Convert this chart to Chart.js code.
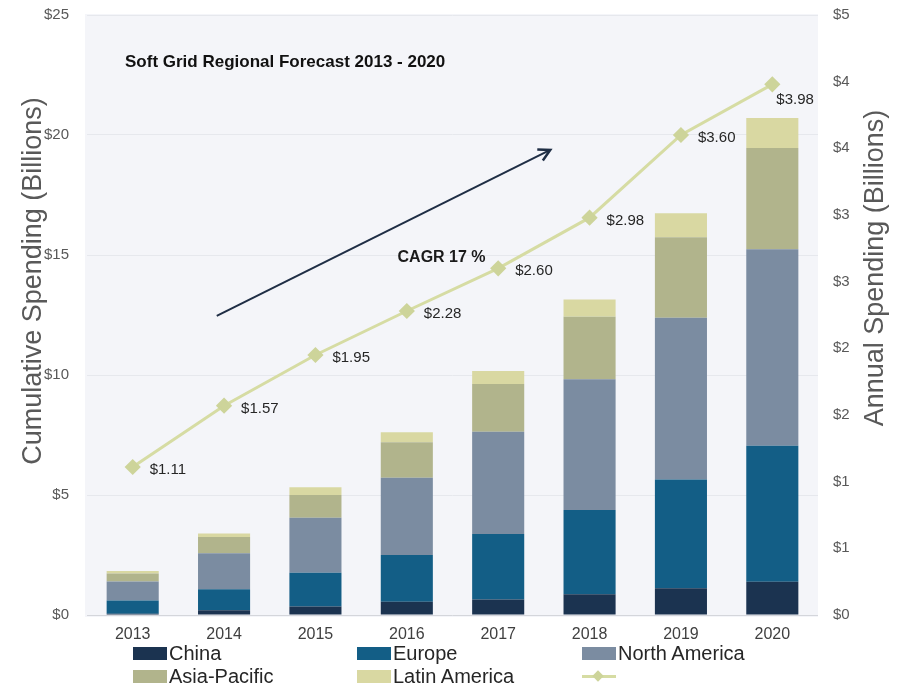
<!DOCTYPE html>
<html>
<head>
<meta charset="utf-8">
<title>Soft Grid Regional Forecast 2013 - 2020</title>
<script src="https://cdn.jsdelivr.net/npm/chart.js@4.4.1/dist/chart.umd.min.js"></script>
<style>
  html, body { margin: 0; padding: 0; background: #ffffff; }
  #wrap { position: relative; width: 899px; height: 686px; overflow: hidden; }
  #legend {
    position: absolute; left: 133px; top: 642px;
    display: grid; grid-template-columns: 224px 225px 200px; grid-auto-rows: 23px;
    color: #262626; white-space: nowrap;
  }
  .item { display: flex; align-items: center; height: 23px; }
  .box { width: 34px; height: 13px; margin-right: 2px; flex: none; }
  .lineKey { position: relative; width: 34px; height: 13px; }
  .lineKey .bar { position: absolute; left: 0; right: 0; top: 5px; height: 3px; }
  .lineKey .dia { position: absolute; left: 12px; top: 2px; width: 8px; height: 8px; transform: rotate(45deg); }
</style>
</head>
<body>
<div id="wrap">
  <canvas id="chart"></canvas>
  <div id="legend"></div>
</div>
<script>
// ---- data ----
const years = ["2013", "2014", "2015", "2016", "2017", "2018", "2019", "2020"];
const china        = [0.05, 0.20, 0.35, 0.55, 0.65, 0.86, 1.11, 1.39];
const europe       = [0.55, 0.87, 1.41, 1.95, 2.72, 3.51, 4.54, 5.66];
const northAmerica = [0.80, 1.50, 2.29, 3.22, 4.27, 5.45, 6.74, 8.19];
const asiaPacific  = [0.33, 0.68, 0.95, 1.48, 1.98, 2.61, 3.35, 4.22];
const latinAmerica = [0.10, 0.15, 0.32, 0.41, 0.55, 0.72, 1.00, 1.25];
const annual       = [1.11, 1.57, 1.95, 2.28, 2.60, 2.98, 3.60, 3.98];

const regionNames = ["China", "Europe", "North America", "Asia-Pacific", "Latin America"];
const regionColors = ["#1b3350", "#135e86", "#7b8ca1", "#b1b48c", "#d9d8a2"];
const LINE_COLOR = "#d6dca3";
const MARKER_COLOR = "#cdd49a";

// annotation arrow in data units (category index, left axis value)
const arrowFrom = { x: 0.92, y: 12.46 };
const arrowTo   = { x: 4.57, y: 19.38 };
const cagrAt    = { x: 3.38, y: 14.9 };

// ---- fonts: use a narrow face when the machine has one ----
function hasFont(name) {
  const c = document.createElement("canvas").getContext("2d");
  c.font = "30px monospace";
  const a = c.measureText("China 2013 $1.11").width;
  c.font = "30px '" + name + "', monospace";
  return c.measureText("China 2013 $1.11").width !== a;
}
const NARROW = hasFont("Liberation Sans Narrow");
const SMALL_FONT = NARROW ? "'Liberation Sans Narrow', 'Liberation Sans', Arial, sans-serif"
                          : "'Liberation Sans', Arial, sans-serif";
const K = NARROW ? 1 : 0.82;     // shrink sizes when falling back to a regular width face
const BODY_FONT = "'Liberation Sans', Arial, sans-serif";
const AXIS_GREY = "#595959";

// ---- plugins ----
const plotBackground = {
  id: "plotBackground",
  beforeDraw(chart) {
    const { ctx, chartArea: a } = chart;
    ctx.save();
    ctx.fillStyle = "#f4f5f9";
    ctx.fillRect(a.left - 2, a.top - 1, a.right - a.left + 2, a.bottom - a.top + 3);
    ctx.restore();
  }
};

const lineValueLabels = {
  id: "lineValueLabels",
  afterDatasetsDraw(chart) {
    const idx = chart.data.datasets.findIndex(d => d.type === "line");
    const meta = chart.getDatasetMeta(idx);
    const ctx = chart.ctx;
    ctx.save();
    ctx.font = Math.round(18 * K) + "px " + SMALL_FONT;
    ctx.fillStyle = "#262626";
    ctx.textBaseline = "middle";
    ctx.textAlign = "left";
    meta.data.forEach((pt, i) => {
      const txt = "$" + annual[i].toFixed(2);
      const last = i === meta.data.length - 1;
      ctx.fillText(txt, pt.x + (last ? 4 : 17), pt.y + (last ? 16 : 3));
    });
    ctx.restore();
  }
};

const annotations = {
  id: "annotations",
  afterDraw(chart) {
    const { ctx, chartArea: a, scales } = chart;
    const px = p => ({ x: scales.x.getPixelForValue(p.x), y: scales.y.getPixelForValue(p.y) });
    ctx.save();

    // chart title inside the plot
    ctx.fillStyle = "#111111";
    ctx.font = "bold 17px " + BODY_FONT;
    ctx.textBaseline = "middle";
    ctx.textAlign = "left";
    ctx.fillText("Soft Grid Regional Forecast 2013 - 2020", a.left + 38, a.top + 47);

    // growth arrow
    const p0 = px(arrowFrom), p1 = px(arrowTo);
    ctx.strokeStyle = "#1f2e45";
    ctx.lineWidth = 2;
    ctx.beginPath();
    ctx.moveTo(p0.x, p0.y);
    ctx.lineTo(p1.x, p1.y);
    ctx.stroke();
    const ang = Math.atan2(p1.y - p0.y, p1.x - p0.x);
    ctx.lineWidth = 2.5;
    ctx.beginPath();
    ctx.moveTo(p1.x - 13 * Math.cos(ang - 0.5), p1.y - 13 * Math.sin(ang - 0.5));
    ctx.lineTo(p1.x, p1.y);
    ctx.lineTo(p1.x - 13 * Math.cos(ang + 0.5), p1.y - 13 * Math.sin(ang + 0.5));
    ctx.stroke();

    // CAGR note
    const c = px(cagrAt);
    ctx.fillStyle = "#1a1a1a";
    ctx.font = "bold 16px " + BODY_FONT;
    ctx.textAlign = "center";
    ctx.fillText("CAGR 17 %", c.x, c.y);

    // axis titles
    ctx.fillStyle = AXIS_GREY;
    ctx.font = "27px " + BODY_FONT;
    ctx.save();
    ctx.translate(34, 281);
    ctx.rotate(-Math.PI / 2);
    ctx.fillText("Cumulative Spending (Billions)", 0, 0);
    ctx.restore();
    ctx.save();
    ctx.translate(876, 268);
    ctx.rotate(-Math.PI / 2);
    ctx.fillText("Annual Spending (Billions)", 0, 0);
    ctx.restore();

    ctx.restore();
  }
};

// ---- datasets ----
const regionSeries = [china, europe, northAmerica, asiaPacific, latinAmerica];
const barSets = regionSeries.map((vals, i) => ({
  type: "bar",
  label: regionNames[i],
  data: vals,
  backgroundColor: regionColors[i],
  borderWidth: 0,
  yAxisID: "y",
  stack: "regions",
  order: 1,
  barPercentage: 0.57,
  categoryPercentage: 1.0
}));

const lineSet = {
  type: "line",
  label: "",
  data: annual,
  yAxisID: "y2",
  borderColor: LINE_COLOR,
  borderWidth: 3,
  pointStyle: "rectRot",
  pointRadius: 6,
  pointBackgroundColor: MARKER_COLOR,
  pointBorderColor: MARKER_COLOR,
  tension: 0,
  order: 0
};

const tickFont = { family: SMALL_FONT, size: Math.round(18 * K) };

// fixed axis boxes so the plot lands where the reference has it
function fixVertical(width) {
  return s => { s.width = width; s.paddingTop = 0; s.paddingBottom = 0; };
}

const chart = new Chart(document.getElementById("chart"), {
  data: { labels: years, datasets: [...barSets, lineSet] },
  options: {
    responsive: true,
    maintainAspectRatio: false,
    animation: false,
    layout: { padding: { top: 15, bottom: 36, left: 0, right: 0 } },
    plugins: {
      legend: { display: false },
      tooltip: { enabled: true }
    },
    scales: {
      x: {
        stacked: true,
        grid: { display: false },
        border: { display: false },
        ticks: { color: "#404040", font: { family: SMALL_FONT, size: Math.round(20 * K) }, padding: 2, maxRotation: 0 },
        afterFit: s => { s.height = 35; s.paddingLeft = 0; s.paddingRight = 0; }
      },
      y: {
        position: "left",
        stacked: true,
        min: 0, max: 25,
        ticks: { stepSize: 5, color: AXIS_GREY, font: tickFont, padding: 18, callback: v => "$" + v },
        grid: {
          drawTicks: false,
          color: c => c.tick && c.tick.value === 0 ? "#d4d6db" : "#e6e8ed",
          lineWidth: 1
        },
        border: { display: false },
        afterFit: fixVertical(87)
      },
      y2: {
        position: "right",
        min: 0, max: 4.5,
        ticks: { stepSize: 0.5, color: AXIS_GREY, font: tickFont, padding: 15, callback: v => "$" + Math.round(v) },
        grid: { display: false, drawTicks: false },
        border: { display: false },
        afterFit: fixVertical(81)
      }
    }
  },
  plugins: [plotBackground, lineValueLabels, annotations]
});

// ---- html legend laid out in the reference's 3-column grid ----
(function buildLegend() {
  const el = document.getElementById("legend");
  el.style.font = Math.round(24 * K) + "px " + SMALL_FONT;
  chart.data.datasets.forEach(ds => {
    const item = document.createElement("div");
    item.className = "item";
    if (ds.type === "line") {
      const key = document.createElement("span");
      key.className = "lineKey";
      key.innerHTML = '<span class="bar"></span><span class="dia"></span>';
      key.querySelector(".bar").style.background = ds.borderColor;
      key.querySelector(".dia").style.background = ds.pointBackgroundColor;
      item.appendChild(key);
    } else {
      const box = document.createElement("span");
      box.className = "box";
      box.style.background = ds.backgroundColor;
      item.appendChild(box);
      const txt = document.createElement("span");
      txt.textContent = ds.label;
      item.appendChild(txt);
    }
    el.appendChild(item);
  });
})();
</script>
</body>
</html>
